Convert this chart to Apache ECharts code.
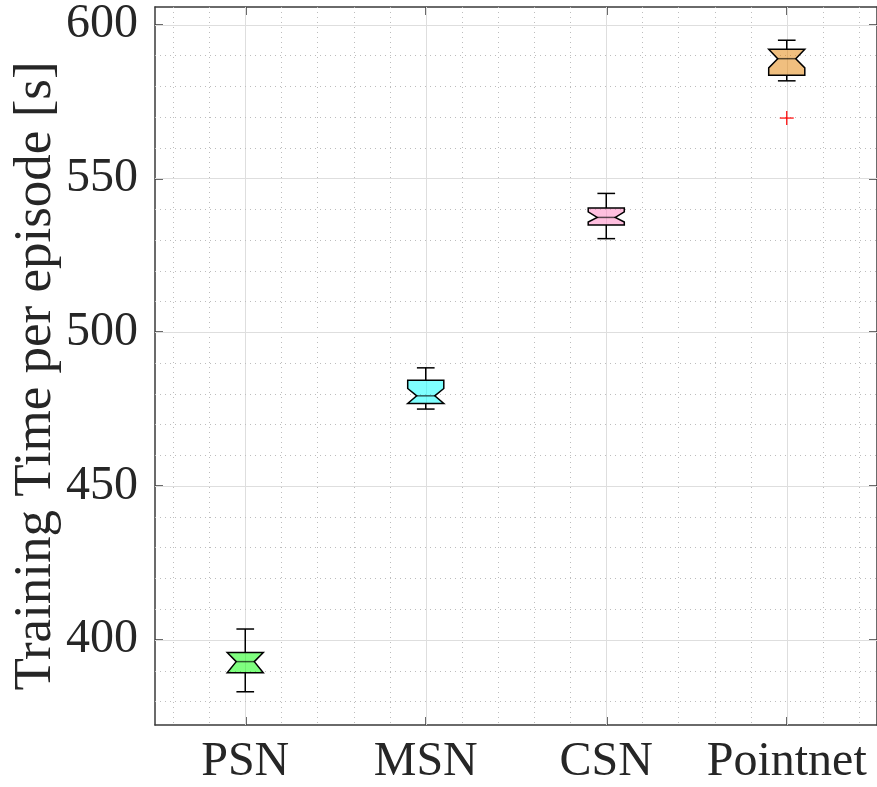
<!DOCTYPE html>
<html>
<head>
<meta charset="utf-8">
<script src="https://cdn.jsdelivr.net/npm/echarts@6/dist/echarts.min.js"></script>
<style>html,body{margin:0;padding:0;background:#fff;}#chart{width:877px;height:787px;}</style>
</head>
<body>
<div id="chart"></div>
<script>
const categories = ['PSN', 'MSN', 'CSN', 'Pointnet'];
const lowerWhisker = [383.1, 475.0, 530.4, 581.7];
const q1 = [389.3, 476.8, 534.8, 583.5];
const notchLow = [389.3, 476.8, 535.8, 585.9];
const medians = [392.9, 479.3, 537.3, 588.9];
const notchHigh = [395.9, 481.7, 539.1, 592.0];
const q3 = [395.9, 484.4, 540.4, 592.0];
const upperWhisker = [403.5, 488.4, 545.1, 594.9];
const outliers = [[4, 569.6]];
const yTicks = [400, 450, 500, 550, 600];
const xTicks = [1, 2, 3, 4];
const fills = ['rgba(0,255,0,0.5)', 'rgba(0,255,255,0.5)', 'rgba(255,128,192,0.5)', 'rgba(225,128,0,0.5)'];

const Y_MIN = 372.3, Y_MAX = 605.7;
const X_MIN = 0.5, X_MAX = 4.5;

// grid line positions
const gridLines = [];
for (let i = 3; i <= 22; i++) {
  const v = +(i * 0.2).toFixed(1);
  const major = Math.abs(v - Math.round(v)) < 1e-6;
  gridLines.push(['v', v, major ? 1 : 0]);
}
for (let v = 380; v <= 600; v += 10) {
  gridLines.push(['h', v, v % 50 === 0 ? 1 : 0]);
}

const boxData = categories.map((c, i) => [i + 1, lowerWhisker[i], q1[i], notchLow[i], medians[i], notchHigh[i], q3[i], upperWhisker[i], i]);

const font = 'Liberation Serif, Times New Roman, serif';
const axisColor = '#3a3a3a';

const chart = echarts.init(document.getElementById('chart'), null, {renderer: 'canvas'});
chart.setOption({
  animation: false,
  backgroundColor: '#fff',
  grid: {left: 155, top: 7, width: 724.5, height: 718, containLabel: false},
  xAxis: [{
    type: 'value', min: X_MIN, max: X_MAX, position: 'bottom',
    axisLine: {show: true, lineStyle: {color: axisColor, width: 1.5}},
    axisTick: {show: true, inside: true, length: 8, customValues: xTicks, lineStyle: {color: axisColor, width: 1.5}},
    axisLabel: {customValues: xTicks, formatter: v => categories[Math.round(v) - 1] || '', fontFamily: font, fontSize: 48, color: '#262626', margin: 13},
    splitLine: {show: false}
  }, {
    type: 'value', min: X_MIN, max: X_MAX, position: 'top',
    axisLine: {show: true, lineStyle: {color: axisColor, width: 1.5}},
    axisTick: {show: true, inside: true, length: 8, customValues: xTicks, lineStyle: {color: axisColor, width: 1.5}},
    axisLabel: {show: false},
    splitLine: {show: false}
  }],
  yAxis: [{
    type: 'value', min: Y_MIN, max: Y_MAX, position: 'left',
    axisLine: {show: true, lineStyle: {color: axisColor, width: 1.5}},
    axisTick: {show: true, inside: true, length: 8, customValues: yTicks, lineStyle: {color: axisColor, width: 1.5}},
    axisLabel: {customValues: yTicks, fontFamily: font, fontSize: 48, color: '#262626', margin: 17},
    splitLine: {show: false}
  }, {
    type: 'value', min: Y_MIN, max: Y_MAX, position: 'right',
    axisLine: {show: true, lineStyle: {color: axisColor, width: 1.5}},
    axisTick: {show: true, inside: true, length: 8, customValues: yTicks, lineStyle: {color: axisColor, width: 1.5}},
    axisLabel: {show: false},
    splitLine: {show: false}
  }],
  graphic: [{
    type: 'text', x: 36, y: 376, rotation: Math.PI / 2,
    style: {text: 'Training Time per episode [s]', font: '53px ' + font, fill: '#262626', align: 'center', verticalAlign: 'middle'}
  }],
  series: [{
    type: 'custom', z: 1, silent: true,
    data: gridLines,
    renderItem: function (params, api) {
      const cs = params.coordSys;
      const kind = gridLines[params.dataIndex][0];
      const val = gridLines[params.dataIndex][1];
      const major = gridLines[params.dataIndex][2] === 1;
      const style = major ? {stroke: '#dedede', lineWidth: 1} : {stroke: '#bdbdbd', lineWidth: 1, lineDash: [1, 4]};
      let shape;
      if (kind === 'v') {
        const p = api.coord([val, Y_MIN]);
        const x = Math.round(p[0]) + 0.5;
        shape = {x1: x, y1: cs.y, x2: x, y2: cs.y + cs.height};
      } else {
        const p = api.coord([X_MIN, val]);
        const y = Math.round(p[1]) + 0.5;
        shape = {x1: cs.x, y1: y, x2: cs.x + cs.width, y2: y};
      }
      return {type: 'line', shape: shape, style: style};
    }
  }, {
    type: 'custom', z: 3,
    data: boxData,
    renderItem: function (params, api) {
      const x = api.value(0);
      const lw = api.value(1), a = api.value(2), nl = api.value(3), md = api.value(4), nh = api.value(5), b = api.value(6), uw = api.value(7);
      const idx = api.value(8);
      const h = 0.1, n = 0.05, cw = 0.049;
      const pts = [
        [x - h, b], [x + h, b], [x + h, nh], [x + n, md], [x + h, nl], [x + h, a],
        [x - h, a], [x - h, nl], [x - n, md], [x - h, nh]
      ].map(p => api.coord(p));
      const ln = (p1, p2, st) => ({type: 'line', shape: {x1: p1[0], y1: p1[1], x2: p2[0], y2: p2[1]}, style: st});
      const ws = {stroke: '#000', lineWidth: 1.5};
      return {
        type: 'group',
        children: [
          ln(api.coord([x, b]), api.coord([x, uw]), ws),
          ln(api.coord([x - cw, uw]), api.coord([x + cw, uw]), ws),
          ln(api.coord([x, a]), api.coord([x, lw]), ws),
          ln(api.coord([x - cw, lw]), api.coord([x + cw, lw]), ws),
          {type: 'polygon', shape: {points: pts}, style: {fill: fills[idx], stroke: '#000', lineWidth: 1.5}},
          ln(api.coord([x - n, md]), api.coord([x + n, md]), {stroke: 'rgba(0,0,0,0.65)', lineWidth: 1.5})
        ]
      };
    }
  }, {
    type: 'custom', z: 4,
    data: outliers,
    renderItem: function (params, api) {
      const p = api.coord([api.value(0), api.value(1)]);
      const s = 7;
      const st = {stroke: '#ff0000', lineWidth: 1.2};
      return {type: 'group', children: [
        {type: 'line', shape: {x1: p[0] - s, y1: p[1], x2: p[0] + s, y2: p[1]}, style: st},
        {type: 'line', shape: {x1: p[0], y1: p[1] - s, x2: p[0], y2: p[1] + s}, style: st}
      ]};
    }
  }]
});
</script>
</body>
</html>
